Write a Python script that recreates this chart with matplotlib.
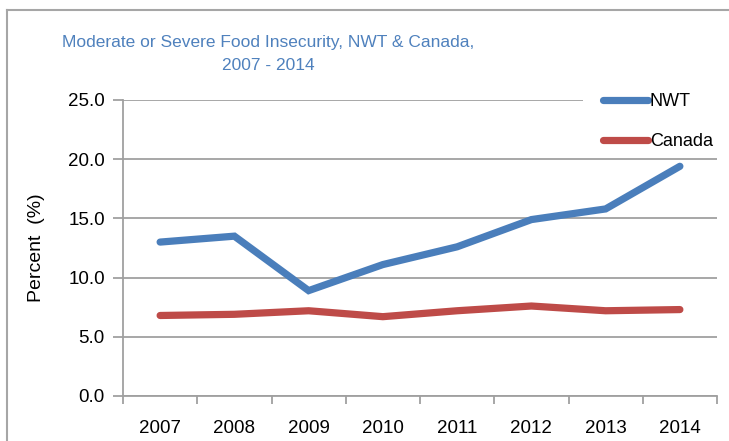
import matplotlib.pyplot as plt
from matplotlib.lines import Line2D
from matplotlib.patches import Rectangle

plt.rcParams['font.family'] = ['Liberation Sans', 'DejaVu Sans']

# Data
years = ['2007', '2008', '2009', '2010', '2011', '2012', '2013', '2014']
nwt = [13.0, 13.5, 8.9, 11.1, 12.6, 14.9, 15.8, 19.4]
canada = [6.8, 6.9, 7.2, 6.7, 7.2, 7.6, 7.2, 7.3]

blue = '#4A7EBB'
red = '#BE4B48'
grey = '#A0A0A0'

W, H = 729, 441
fig = plt.figure(figsize=(W / 100, H / 100), dpi=100)
ax = fig.add_axes([123 / W, 1 - 396 / H, (717 - 123) / W, (396 - 100) / H])

x = list(range(len(years)))
ax.plot(x, nwt, color=blue, lw=5.2, solid_capstyle='round', solid_joinstyle='miter', label='NWT', zorder=3)
ax.plot(x, canada, color=red, lw=5.2, solid_capstyle='round', solid_joinstyle='miter', label='Canada', zorder=3)

ax.set_xlim(-0.5, 7.5)
ax.set_ylim(0, 25)
ax.set_yticks([0, 5, 10, 15, 20, 25])
ax.set_yticklabels(['0.0', '5.0', '10.0', '15.0', '20.0', '25.0'], fontsize=13.5)
ax.set_xticks(x)
ax.set_xticklabels(years, fontsize=13.5)
ax.set_xticks([i - 0.5 for i in range(len(years) + 1)], minor=True)
ax.tick_params(axis='x', which='major', length=0, pad=17)
ax.tick_params(axis='x', which='minor', length=6, width=1.3, color=grey, direction='out')
ax.tick_params(axis='y', length=7, width=1.3, color=grey, direction='out', pad=6)
ax.grid(axis='y', color=grey, lw=1.3)
ax.set_axisbelow(True)
for s in ['top', 'right']:
    ax.spines[s].set_visible(False)
for s in ['left', 'bottom']:
    ax.spines[s].set_color(grey)
    ax.spines[s].set_linewidth(1.3)

ax.set_ylabel('Percent  (%)', fontsize=14, labelpad=17)

fig.text(268 / W, 1 - 54 / H, 'Moderate or Severe Food Insecurity, NWT & Canada,\n2007 - 2014',
         ha='center', va='center', fontsize=12.5, color='#4F81BD', linespacing=1.75)

# white box behind the legend hides the top gridline there
ax.add_patch(Rectangle((583 / W, 1 - 150 / H), 140 / W, 62 / H, transform=fig.transFigure,
                       facecolor='white', edgecolor='none', zorder=1, clip_on=False))

leg = ax.legend(loc='upper left', bbox_to_anchor=(603 / W, 1 - 93 / H), bbox_transform=fig.transFigure,
                frameon=False, fontsize=13, handlelength=2.5, handletextpad=0.1, labelspacing=1.3,
                borderpad=0, borderaxespad=0)
leg.set_zorder(5)

# outer frame of the chart area (top and left edges visible)
fig.add_artist(Line2D([7 / W, 1.0], [1 - 10 / H, 1 - 10 / H], transform=fig.transFigure,
                      color='#A6A6A6', lw=1.5))
fig.add_artist(Line2D([7 / W, 7 / W], [1 - 10 / H, 0.0], transform=fig.transFigure,
                      color='#A6A6A6', lw=1.5))

plt.savefig('out.png', dpi=100)
